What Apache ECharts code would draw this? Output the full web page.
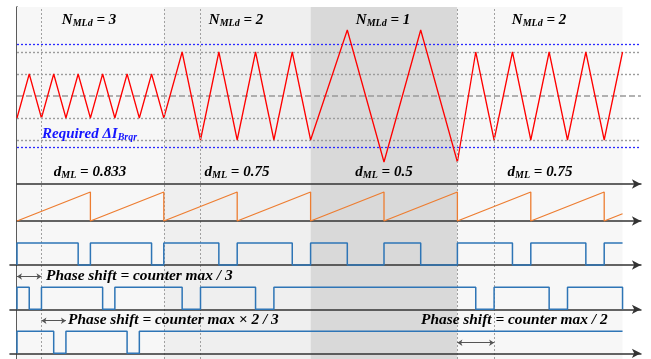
<!DOCTYPE html>
<html><head><meta charset="utf-8">
<script src="https://cdn.jsdelivr.net/npm/echarts@6/dist/echarts.min.js"></script>
<style>html,body{margin:0;padding:0;background:#fff}#c{width:651px;height:359px}</style>
</head><body><div id="c"></div>
<script>
// time axis in counter periods
const zones = [[0, 2], [2, 4], [4, 6], [6, 8.25]];
const zoneColors = ['#f7f7f7', '#efefef', '#d9d9d9', '#f7f7f7'];
const zoneN = ['3', '2', '1', '2'];
const zoneD = ['0.833', '0.75', '0.5', '0.75'];
// inductor current (normalised)
const currentWave = [[0,-1],[0.1667,1],[0.3333,-1],[0.5,1],[0.6667,-1],[0.8333,1],[1,-1],[1.1667,1],[1.3333,-1],[1.5,1],[1.6667,-1],[1.8333,1],[2,-1],
  [2.25,2],[2.5,-2],[2.75,2],[3,-2],[3.25,2],[3.5,-2],[3.75,2],[4,-2],
  [4.5,3],[5,-3],[5.5,3],[6,-3],
  [6.25,2],[6.5,-2],[6.75,2],[7,-2],[7.25,2],[7.5,-2],[7.75,2],[8,-2],[8.25,2]];
const currentLevels = [-2, -1, 1, 2];
const requiredBand = [-2.35, 2.35];
// counter sawtooth
const counterWave = [[0,0],[1,1],[1,0],[2,1],[2,0],[3,1],[3,0],[4,1],[4,0],[5,1],[5,0],[6,1],[6,0],[7,1],[7,0],[8,1],[8,0],[8.25,0.25]];
// PWM high intervals
const pwmMain = [[0,0.8333],[1,1.8333],[2,2.75],[3,3.75],[4,4.5],[5,5.5],[6,6.75],[7,7.75],[8,8.25]];
const pwmShift3 = [[0,0.1667],[0.3333,1.1667],[1.3333,2.25],[2.5,3.25],[3.5,6.25],[6.5,7.25],[7.5,8.25]];
const pwmShift23 = [[0,0.5],[0.6667,1.5],[1.6667,8.25]];
const markerTimes = [0.3333, 2, 2.5, 6, 6.5];
const phaseArrows = [[0, 0.3333], [0.3333, 0.6667], [6, 6.5]];

const PX = 73.4, L = 17, XMAX = 8.5;
const R = 651 - L - XMAX * PX;
const PL = 10, PMIN = -(L - PL) / PX;

function steps(iv, dropLast) {
  const p = [];
  iv.forEach(([a, b], i) => {
    p.push([a, 0], [a, 1], [b, 1]);
    if (i < iv.length - 1 || dropLast) p.push([b, 0]);
  });
  return p;
}
const axisLine = {show: true, onZero: false, symbol: ['none', 'arrow'], symbolSize: [7, 9], lineStyle: {color: '#333', width: 1.6}};
function xa(i, min, show) {
  return {type: 'value', gridIndex: i, min: min, max: XMAX, z: 5,
    axisLine: show ? axisLine : {show: false}, axisTick: {show: false}, axisLabel: {show: false}, splitLine: {show: false}};
}
function ya(i, min, max, show) {
  return {type: 'value', gridIndex: i, min, max, show: !!show,
    axisLine: {show: true, lineStyle: {color: '#333', width: 1.6}}, axisTick: {show: false}, axisLabel: {show: false}, splitLine: {show: false}};
}
const F = '"Liberation Serif", "Times New Roman", serif';
function lbl(x, y, main, sub, rest, color, align) {
  const base = {fontFamily: F, fontStyle: 'italic', fontWeight: 'bold', fill: color || '#000'};
  return {type: 'text', x, y, z: 100, silent: true, style: {
    text: '{m|' + main + '}{s|' + sub + '}{m|' + rest + '}',
    align: align || 'center', verticalAlign: 'middle',
    rich: {m: Object.assign({fontSize: 15, lineHeight: 16}, base),
           s: Object.assign({fontSize: 10, lineHeight: 10, verticalAlign: 'bottom'}, base)}}};
}
function txt(x, y, s) {
  return {type: 'text', x, y, z: 100, silent: true, style: {text: s, align: 'left', verticalAlign: 'middle',
    fontFamily: F, fontStyle: 'italic', fontWeight: 'bold', fontSize: 15.4, fill: '#000'}};
}
const zoneCenters = [89, 236, 383, 539];
const graphics = [];
zoneN.forEach((n, i) => graphics.push(lbl(zoneCenters[i], 20.5, 'N', 'MLd', ' = ' + n)));
zoneD.forEach((d, i) => graphics.push(lbl(zoneCenters[i] + 1, 172, 'd', 'ML', ' = ' + d)));
graphics.push(lbl(42, 134, 'Required ΔI', 'Brqr', '', '#1414ff', 'left'));
graphics.push(txt(46, 276, 'Phase shift = counter max / 3'));
graphics.push(txt(68, 320, 'Phase shift = counter max × 2 / 3'));
graphics.push(txt(421, 320, 'Phase shift = counter max / 2'));

const arrowStyle = {symbol: ['arrow', 'arrow'], symbolSize: 5, silent: true, label: {show: false},
  lineStyle: {color: '#555', width: 1, type: 'solid'}};
function arrow(a, y) { return [{coord: [a[0], y]}, {coord: [a[1], y]}]; }

const dotted = (c, w) => ({color: c, width: w, type: [2, 2]});
const option = {
  animation: false,
  graphic: graphics,
  grid: [
    {left: L, right: R, top: 7, bottom: 0},
    {left: L, right: R, top: 8, height: 176},
    {left: L, right: R, top: 192, height: 29},
    {left: PL, right: R, top: 243, height: 22},
    {left: PL, right: R, top: 309.3 - 35.2, height: 35.2},
    {left: PL, right: R, top: 353.3 - 35.2, height: 35.2}
  ],
  xAxis: [xa(0, 0, false), xa(1, 0, true), xa(2, 0, true), xa(3, PMIN, true), xa(4, PMIN, true), xa(5, PMIN, true)],
  yAxis: [ya(0, 0, 1, true), ya(1, -4, 4), ya(2, 0, 1), ya(3, 0, 1), ya(4, 0, 1.6), ya(5, 0, 1.6)],
  series: [
    {type: 'line', xAxisIndex: 0, yAxisIndex: 0, data: [[0, 0]], showSymbol: false, lineStyle: {opacity: 0}, z: 0, silent: true,
      markArea: {silent: true, data: zones.map((z, i) => [{xAxis: z[0], itemStyle: {color: zoneColors[i]}}, {xAxis: z[1]}])},
      markLine: {silent: true, symbol: 'none', label: {show: false}, lineStyle: dotted('#a0a0a0', 1),
        data: markerTimes.map(t => ({xAxis: t}))}},
    {type: 'line', xAxisIndex: 1, yAxisIndex: 1, data: currentWave, showSymbol: false, z: 4, clip: false,
      lineStyle: {color: '#ff0000', width: 1.3},
      markLine: {silent: true, symbol: 'none', label: {show: false}, z: 3,
        data: currentLevels.map(v => ({yAxis: v, lineStyle: dotted('#9c9c9c', 1.4)}))
          .concat([{yAxis: 0, lineStyle: {color: '#999', width: 1.5, type: [6, 3]}}])
          .concat(requiredBand.map(v => ({yAxis: v, lineStyle: dotted('#2a2aff', 1.3)})))}},
    {type: 'line', xAxisIndex: 2, yAxisIndex: 2, data: counterWave, showSymbol: false, z: 6, clip: false,
      lineStyle: {color: '#ED7D31', width: 1.3}},
    {type: 'line', xAxisIndex: 3, yAxisIndex: 3, data: steps(pwmMain, false), showSymbol: false, z: 6, clip: false,
      lineStyle: {color: '#2E75B6', width: 1.5}},
    {type: 'line', xAxisIndex: 4, yAxisIndex: 4, data: steps(pwmShift3, true), showSymbol: false, z: 6, clip: false,
      lineStyle: {color: '#2E75B6', width: 1.5},
      markLine: Object.assign({data: [arrow(phaseArrows[0], 1.49)]}, arrowStyle)},
    {type: 'line', xAxisIndex: 5, yAxisIndex: 5, data: steps(pwmShift23, false), showSymbol: false, z: 6, clip: false,
      lineStyle: {color: '#2E75B6', width: 1.5},
      markLine: Object.assign({data: [arrow(phaseArrows[1], 1.48), arrow(phaseArrows[2], 0.48)]}, arrowStyle)}
  ]
};
const chart = echarts.init(document.getElementById('c'), null, {renderer: 'canvas'});
chart.setOption(option);
</script></body></html>
